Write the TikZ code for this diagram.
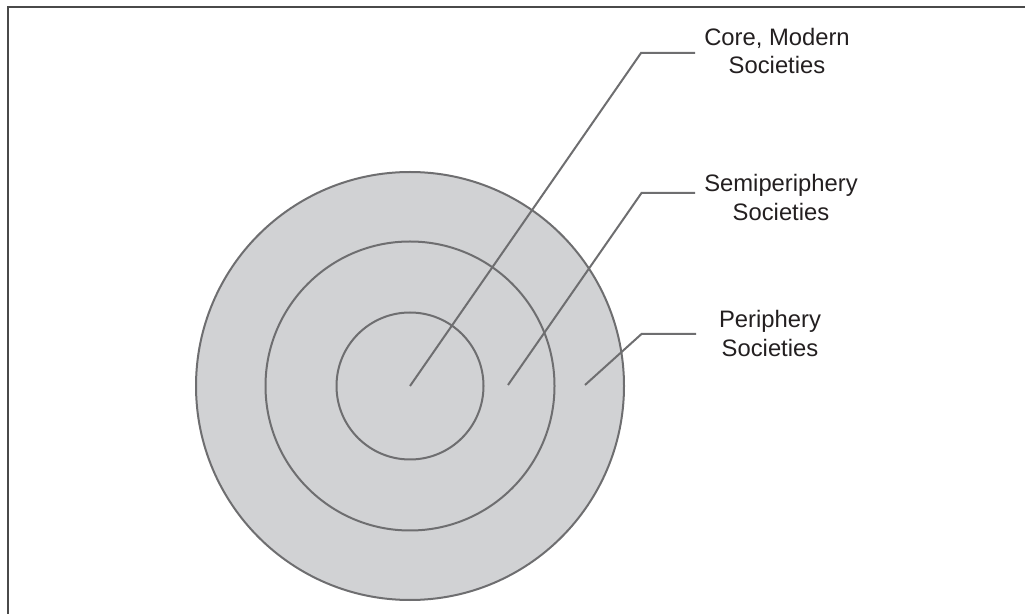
\documentclass[tikz,border=0pt]{standalone}
\usepackage{fontspec}
\setmainfont{Liberation Sans}
\definecolor{ringgray}{HTML}{6E6E70}
\definecolor{leadgray}{HTML}{6E6E70}
\definecolor{fillgray}{HTML}{D1D2D4}
\definecolor{framegray}{HTML}{4A4A4A}
\definecolor{txt}{HTML}{231F20}
\begin{document}
\begin{tikzpicture}[x=1pt,y=1pt,
  ring/.style={circle,draw=ringgray,line width=2pt,inner sep=0pt},
  leader/.style={draw=leadgray,line width=2pt},
  lbl/.style={align=center,font=\fontsize{23.8}{28.5}\selectfont,text=txt,inner sep=0pt,anchor=base}]
\useasboundingbox (0,0) rectangle (1025,613);
% frame
\draw[framegray,line width=2pt] (1026,606) -- (8,606) -- (8,-1);
% rings
\node[ring,fill=fillgray,minimum size=428pt] (outer) at (410,227) {};
\node[ring,minimum size=289pt] (middle) at (410,227) {};
\node[ring,minimum size=147pt] (inner) at (410,227) {};
% leader points
\coordinate (cs) at (inner.center);
\coordinate (ck) at (641,560);
\coordinate (ce) at (695,560);
\coordinate (ss) at (508,228);
\coordinate (sk) at (641.5,420);
\coordinate (se) at (695,420);
\coordinate (ps) at (585,228);
\coordinate (pk) at (641.5,279);
\coordinate (pe) at (696,279);
\draw[leader] (cs) -- (ck) -- (ce);
\draw[leader] (ss) -- (sk) -- (se);
\draw[leader] (ps) -- (pk) -- (pe);
% labels (anchor base = baseline of the last line)
\node[lbl] (core) at (777,539) {Core, Modern\\Societies};
\node[lbl] (semi) at (781,392.5) {Semiperiphery\\Societies};
\node[lbl] (peri) at (770,256.5) {Periphery\\Societies};
\end{tikzpicture}
\end{document}
